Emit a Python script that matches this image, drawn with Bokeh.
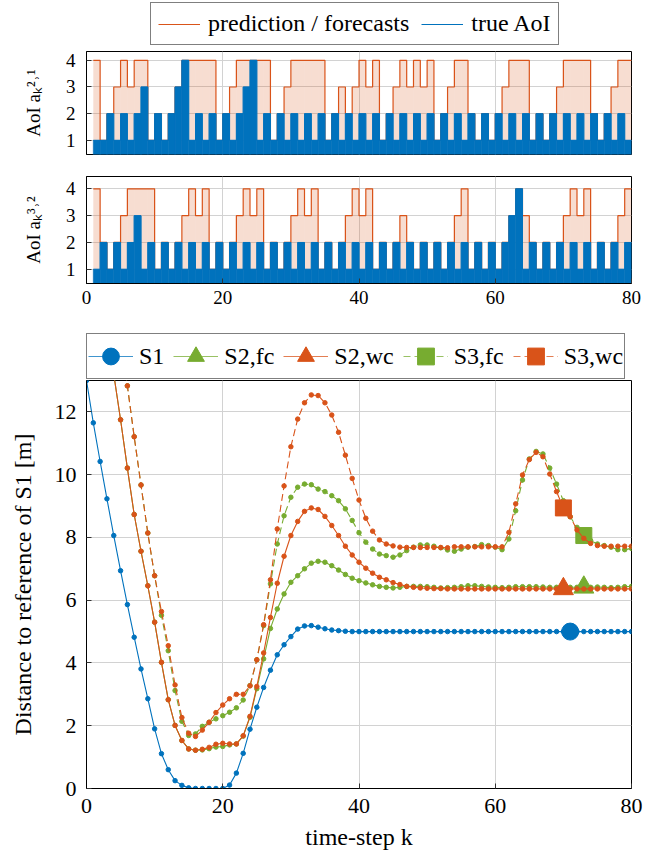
from bokeh.plotting import figure
from bokeh.layouts import column
from bokeh.models import Range1d, FixedTicker, Legend, LegendItem
from bokeh.embed import file_html
from bokeh.resources import INLINE

FONT = "Liberation Serif"
BLUE = "#0072BD"
ORANGE = "#D95319"
GREEN = "#77AC30"
GRID = "#d2d2d2"

# ---------------- AoI panels (k = 1..79) ----------------
aoi_steps = list(range(1, 80))
aoi_true_21 = [1, 1, 2, 1, 2, 1, 2, 3, 1, 2,
               1, 2, 3, 4, 1, 2, 1, 2, 1, 2,
               1, 2, 3, 4, 1, 2, 1, 2, 1, 2,
               1, 2, 1, 2, 1, 2, 1, 2, 1, 2,
               1, 2, 1, 2, 1, 2, 1, 2, 1, 2,
               1, 2, 1, 2, 1, 2, 1, 2, 1, 2,
               1, 2, 1, 2, 1, 2, 1, 2, 1, 2,
               1, 2, 1, 2, 1, 2, 1, 2, 1]
aoi_pred_21 = [4, 1, 2, 3, 4, 3, 4, 4, 1, 2,
               1, 2, 3, 4, 4, 4, 4, 4, 1, 2,
               3, 4, 4, 4, 4, 4, 1, 2, 3, 4,
               4, 4, 4, 4, 1, 2, 3, 2, 3, 4,
               3, 4, 1, 2, 3, 4, 3, 4, 3, 4,
               1, 2, 3, 4, 4, 2, 1, 2, 1, 2,
               3, 4, 4, 4, 1, 2, 1, 2, 3, 4,
               4, 4, 4, 2, 1, 2, 3, 4, 4]
aoi_true_32 = [1, 2, 1, 2, 1, 2, 3, 1, 2, 1,
               2, 1, 2, 1, 2, 1, 2, 1, 2, 1,
               2, 1, 2, 1, 2, 1, 2, 1, 2, 1,
               2, 1, 2, 1, 2, 1, 2, 1, 2, 1,
               2, 1, 2, 1, 2, 1, 2, 1, 2, 1,
               2, 1, 2, 1, 2, 1, 2, 1, 2, 1,
               2, 3, 4, 1, 2, 1, 2, 1, 2, 1,
               2, 1, 2, 1, 2, 1, 2, 1, 2]
aoi_pred_32 = [4, 2, 1, 2, 3, 4, 4, 4, 4, 1,
               2, 1, 2, 3, 4, 3, 4, 1, 2, 1,
               2, 3, 4, 3, 4, 1, 2, 1, 2, 3,
               4, 3, 4, 1, 2, 1, 2, 3, 4, 3,
               4, 1, 2, 1, 2, 3, 2, 1, 2, 1,
               2, 1, 2, 3, 4, 1, 2, 1, 2, 1,
               2, 3, 4, 3, 2, 1, 2, 1, 2, 3,
               4, 3, 4, 1, 2, 1, 2, 3, 4]
aoi_yticks = [1, 2, 3, 4]
x_ticks = [0, 20, 40, 60, 80]

# ---------------- distance plot (k = 0..80) ----------------
time_steps = list(range(0, 81))
dist_yticks = [0, 2, 4, 6, 8, 10, 12]
s1 = [13.0, 11.65, 10.42, 9.23, 8.06, 6.94, 5.86, 4.82, 3.81, 2.86,
      1.90, 1.11, 0.60, 0.25, 0.10, 0.02, 0.0, 0.0, 0.0, 0.0,
      0.0, 0.11, 0.49, 1.12, 1.89, 2.59, 3.22, 3.77, 4.26, 4.58,
      4.84, 5.08, 5.18, 5.19, 5.14, 5.09, 5.05, 5.03, 5.01, 5.00,
      5.00, 5.00, 5.00, 5.00, 5.00, 5.00, 5.00, 5.00, 5.00, 5.00,
      5.00, 5.00, 5.00, 5.00, 5.00, 5.00, 5.00, 5.00, 5.00, 5.00,
      5.00, 5.00, 5.00, 5.00, 5.00, 5.00, 5.00, 5.00, 5.00, 5.00,
      5.00, 5.00, 5.00, 5.00, 5.00, 5.00, 5.00, 5.00, 5.00, 5.00, 5.00]
s2_fc = [19.2, 17.7, 16.2, 14.7, 13.2, 11.75, 10.21, 8.73, 7.56, 6.46,
         5.30, 4.02, 2.83, 2.01, 1.53, 1.26, 1.22, 1.23, 1.27, 1.32,
         1.34, 1.39, 1.42, 1.67, 2.27, 3.18, 4.13, 5.10, 5.72, 6.20,
         6.57, 6.78, 7.00, 7.18, 7.24, 7.21, 7.10, 6.96, 6.82, 6.70,
         6.62, 6.55, 6.49, 6.44, 6.41, 6.39, 6.41, 6.44, 6.44, 6.44,
         6.43, 6.41, 6.39, 6.40, 6.41, 6.43, 6.46, 6.46, 6.44, 6.42,
         6.41, 6.40, 6.41, 6.43, 6.43, 6.43, 6.43, 6.42, 6.41, 6.41,
         6.41, 6.41, 6.41, 6.41, 6.41, 6.42, 6.41, 6.40, 6.41, 6.43, 6.44]
s2_wc = [19.2, 17.7, 16.2, 14.7, 13.2, 11.75, 10.21, 8.73, 7.56, 6.46,
         5.30, 4.02, 2.83, 2.01, 1.53, 1.26, 1.22, 1.25, 1.31, 1.41,
         1.44, 1.42, 1.42, 1.68, 2.30, 3.25, 4.32, 5.45, 6.54, 7.40,
         8.06, 8.51, 8.83, 8.94, 8.89, 8.67, 8.38, 8.06, 7.72, 7.44,
         7.21, 7.02, 6.86, 6.73, 6.65, 6.56, 6.50, 6.44, 6.41, 6.39,
         6.38, 6.37, 6.37, 6.36, 6.36, 6.36, 6.36, 6.36, 6.36, 6.36,
         6.36, 6.36, 6.36, 6.36, 6.36, 6.36, 6.36, 6.36, 6.36, 6.36,
         6.36, 6.36, 6.36, 6.36, 6.36, 6.36, 6.36, 6.36, 6.36, 6.36, 6.36]
s3_fc = [21.9, 20.4, 18.9, 17.4, 15.9, 14.4, 12.83, 11.21, 9.67, 8.14,
         6.78, 5.52, 4.39, 3.12, 2.14, 1.69, 1.74, 1.98, 2.11, 2.22,
         2.32, 2.43, 2.57, 2.82, 3.28, 4.10, 5.19, 6.52, 7.79, 8.69,
         9.28, 9.60, 9.70, 9.68, 9.54, 9.46, 9.33, 9.17, 8.91, 8.54,
         8.15, 7.85, 7.63, 7.47, 7.42, 7.37, 7.44, 7.58, 7.69, 7.76,
         7.76, 7.72, 7.67, 7.60, 7.56, 7.63, 7.69, 7.71, 7.77, 7.74,
         7.69, 7.61, 7.95, 8.85, 9.83, 10.50, 10.74, 10.66, 10.21, 9.70,
         9.17, 8.66, 8.32, 8.06, 7.90, 7.79, 7.74, 7.69, 7.61, 7.61, 7.65]
s3_wc = [21.9, 20.4, 18.9, 17.4, 15.9, 14.4, 12.83, 11.21, 9.67, 8.14,
         6.78, 5.64, 4.55, 3.30, 2.26, 1.76, 1.66, 1.86, 2.11, 2.42,
         2.66, 2.86, 3.00, 3.00, 3.27, 4.10, 5.22, 6.65, 8.27, 9.64,
         10.89, 11.77, 12.29, 12.54, 12.52, 12.29, 11.90, 11.35, 10.62, 9.88,
         9.19, 8.61, 8.20, 7.92, 7.79, 7.73, 7.69, 7.68, 7.68, 7.68,
         7.68, 7.68, 7.68, 7.67, 7.70, 7.70, 7.70, 7.70, 7.70, 7.70,
         7.70, 7.70, 8.16, 9.07, 9.99, 10.48, 10.71, 10.57, 10.02, 9.46,
         8.94, 8.66, 8.24, 7.97, 7.81, 7.74, 7.72, 7.72, 7.72, 7.72, 7.72]
series_names = ["S1", "S2,fc", "S2,wc", "S3,fc", "S3,wc"]
series_values = [s1, s2_fc, s2_wc, s3_fc, s3_wc]
series_colors = [BLUE, GREEN, ORANGE, GREEN, ORANGE]
series_dash = ["solid", "solid", "solid", "7 4", "7 4"]
series_marker = ["circle", "triangle", "triangle", "square", "square"]
series_marker_size = [17, 20, 20, 16, 16]
series_marker_step = [71, 73, 70, 73, 70]

W = 655


def style(p, xt, yt, tick_px):
    p.outline_line_color = "black"
    p.outline_line_width = 1
    p.outline_line_alpha = 1
    p.background_fill_color = "white"
    p.border_fill_color = "white"
    p.xaxis.ticker = FixedTicker(ticks=xt)
    p.yaxis.ticker = FixedTicker(ticks=yt)
    p.xgrid.grid_line_color = GRID
    p.ygrid.grid_line_color = GRID
    p.xgrid.grid_line_width = 1
    p.ygrid.grid_line_width = 1
    for ax in p.axis:
        ax.major_tick_in = 5
        ax.major_tick_out = 0
        ax.minor_tick_line_color = None
        ax.axis_line_color = "black"
        ax.major_tick_line_color = "#333333"
        ax.major_label_text_font = FONT
        ax.major_label_text_font_size = tick_px
        ax.major_label_text_color = "black"
        ax.axis_label_text_font = FONT
        ax.axis_label_text_font_style = "normal"
        ax.axis_label_text_color = "black"


def legend_strip(height):
    # a frame-only strip (aligned with the plots below) that just carries a legend;
    # its ranges are set so that its legend renderers fall outside the visible frame
    s = figure(width=W, height=height, x_range=Range1d(0, 1), y_range=Range1d(-2, -1),
               output_backend="svg", toolbar_location=None, title=None,
               x_axis_location=None, y_axis_location=None,
               min_border_left=0, min_border_right=0, min_border_top=0, min_border_bottom=0)
    s.grid.visible = False
    s.outline_line_color = None
    s.background_fill_color = "white"
    s.border_fill_color = "white"
    return s


def make_legend(items, loc, padding, spacing, glyph_w, glyph_h, standoff):
    return Legend(items=items, orientation="horizontal", location=loc, margin=0,
                  padding=padding, spacing=spacing, glyph_width=glyph_w, glyph_height=glyph_h,
                  label_standoff=standoff, label_text_font=FONT, label_text_font_size="24px",
                  label_text_color="black", border_line_color="black", border_line_width=1,
                  background_fill_alpha=1)


def aoi_panel(true_vals, pred_vals, y_top, height, b_top, b_bottom, ylabel):
    p = figure(width=W, height=height, x_range=Range1d(0, 80), y_range=Range1d(0.47, y_top),
               output_backend="svg", toolbar_location=None, title=None,
               min_border_left=86, min_border_right=24,
               min_border_top=b_top, min_border_bottom=b_bottom)
    right_edges = [k + 1 for k in aoi_steps]
    p.quad(left=aoi_steps, right=right_edges, bottom=0, top=pred_vals,
           fill_color=ORANGE, fill_alpha=0.2, line_color=None)
    p.step(x=aoi_steps + [80], y=pred_vals + [pred_vals[-1]], mode="after",
           line_color=ORANGE, line_width=1.2)
    p.quad(left=aoi_steps, right=right_edges, bottom=0, top=true_vals,
           fill_color=BLUE, line_color=BLUE, line_width=0.6)
    p.step(x=aoi_steps + [80], y=true_vals + [true_vals[-1]], mode="after",
           line_color=BLUE, line_width=1)
    style(p, x_ticks, aoi_yticks, "19px")
    p.yaxis.axis_label = ylabel
    p.yaxis.axis_label_text_font_size = "19px"
    p.yaxis.major_label_standoff = 11
    p.yaxis.axis_label_standoff = 19
    return p


# top legend strip
strip1 = legend_strip(50)
lg_pred = strip1.step(x=aoi_steps, y=aoi_pred_21, mode="after", line_color=ORANGE, line_width=1.2)
lg_true = strip1.step(x=aoi_steps, y=aoi_true_21, mode="after", line_color=BLUE, line_width=1.2)
leg1 = make_legend([LegendItem(label="prediction / forecasts", renderers=[lg_pred]),
                    LegendItem(label="true AoI", renderers=[lg_true])],
                   (64, 5), 7, 12, 42, 20, 8)
strip1.add_layout(leg1)

p1 = aoi_panel(aoi_true_21, aoi_pred_21, 4.33, 116, 1, 12, "AoI aₖ²˒¹")
p1.xaxis.visible = False

p2 = aoi_panel(aoi_true_32, aoi_pred_32, 4.46, 164, 10, 47, "AoI aₖ³˒²")
p2.xaxis.major_label_standoff = 7

# bottom legend strip
strip3 = legend_strip(49)
items = []
for name, vals, col, dash, mk, ms, mstep in zip(series_names, series_values, series_colors,
                                                 series_dash, series_marker, series_marker_size,
                                                 series_marker_step):
    l_r = strip3.line(time_steps, vals, line_color=col, line_width=1.1, line_dash=dash,
                      line_alpha=0.75)
    m_r = strip3.scatter([time_steps[mstep]], [vals[mstep]], marker=mk, size=ms,
                         fill_color=col, line_color=col)
    items.append(LegendItem(label=name, renderers=[l_r, m_r]))
leg3 = make_legend(items, (0, 0), 1, 9, 45, 42, 6)
strip3.add_layout(leg3)

p3 = figure(width=W, height=478, x_range=Range1d(0, 80), y_range=Range1d(0, 13),
            output_backend="svg", toolbar_location=None, title=None,
            min_border_left=86, min_border_right=24, min_border_top=1, min_border_bottom=69)
for name, vals, col, dash, mk, ms, mstep in zip(series_names, series_values, series_colors,
                                                 series_dash, series_marker, series_marker_size,
                                                 series_marker_step):
    p3.line(time_steps, vals, line_color=col, line_width=1.1, line_dash=dash)
    p3.scatter(time_steps, vals, size=4.5, marker="circle", fill_color=col, line_color=col)
    p3.scatter([time_steps[mstep]], [vals[mstep]], size=ms, marker=mk,
               fill_color=col, line_color=col)

style(p3, x_ticks, dist_yticks, "22px")
p3.xaxis.axis_label = "time-step k"
p3.yaxis.axis_label = "Distance to reference of S1 [m]"
p3.xaxis.axis_label_text_font_size = "24px"
p3.yaxis.axis_label_text_font_size = "24px"
p3.xaxis.major_label_standoff = 10
p3.xaxis.axis_label_standoff = 8
p3.yaxis.major_label_standoff = 10
p3.yaxis.axis_label_standoff = 16

layout = column(strip1, p1, p2, strip3, p3, spacing=0)
open("out.html", "w").write(file_html(layout, INLINE))
